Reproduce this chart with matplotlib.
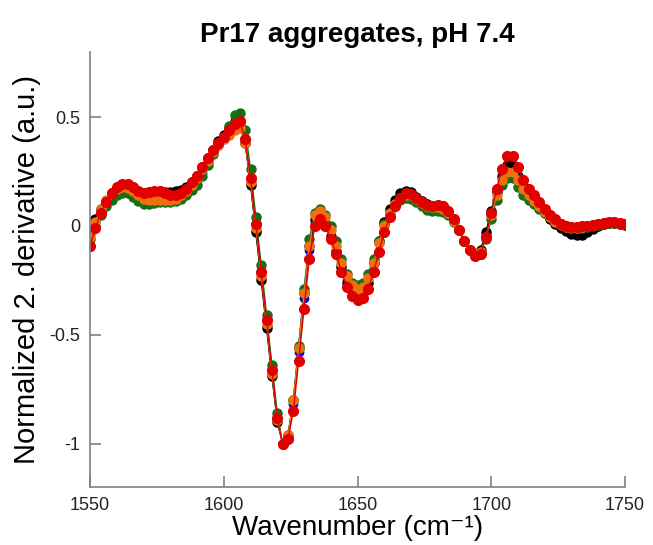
import matplotlib
matplotlib.use('Agg')
import matplotlib.pyplot as plt
import numpy as np

# wavenumber grid (cm-1), every 2 cm-1
wavenumber = np.arange(1550, 1751, 2)

# normalized 2nd derivative spectra
blue = [-0.04, 0.02, 0.07, 0.10, 0.13, 0.15, 0.16, 0.16, 0.145, 0.125,
        0.115, 0.115, 0.12, 0.12, 0.12, 0.12, 0.125, 0.135, 0.155, 0.18,
        0.21, 0.25, 0.29, 0.33, 0.37, 0.40, 0.43, 0.46, 0.47, 0.38,
        0.20, -0.02, -0.24, -0.46, -0.68, -0.89, -1.0, -0.97, -0.82, -0.58,
        -0.33, -0.11, 0.02, 0.05, 0.02, -0.04, -0.11, -0.18, -0.25, -0.29,
        -0.31, -0.30, -0.25, -0.17, -0.08, 0.01, 0.07, 0.11, 0.14, 0.15,
        0.15, 0.135, 0.115, 0.10, 0.09, 0.09, 0.085, 0.065, 0.025, -0.02,
        -0.07, -0.11, -0.13, -0.115, -0.04, 0.06, 0.15, 0.22, 0.26, 0.26,
        0.22, 0.17, 0.14, 0.115, 0.09, 0.06, 0.035, 0.015, 0.0, -0.015,
        -0.025, -0.03, -0.03, -0.02, -0.01, 0.0, 0.01, 0.015, 0.015, 0.01,
        0.005]
black = [-0.03, 0.03, 0.08, 0.11, 0.14, 0.16, 0.17, 0.17, 0.16, 0.14,
         0.135, 0.14, 0.15, 0.155, 0.155, 0.155, 0.16, 0.165, 0.18, 0.20,
         0.23, 0.27, 0.31, 0.35, 0.39, 0.42, 0.45, 0.48, 0.48, 0.38,
         0.19, -0.03, -0.25, -0.47, -0.69, -0.90, -1.0, -0.96, -0.80, -0.56,
         -0.31, -0.09, 0.03, 0.05, 0.01, -0.05, -0.12, -0.19, -0.26, -0.30,
         -0.32, -0.31, -0.26, -0.17, -0.07, 0.02, 0.08, 0.12, 0.15, 0.16,
         0.155, 0.135, 0.115, 0.10, 0.09, 0.09, 0.085, 0.065, 0.025, -0.02,
         -0.07, -0.11, -0.13, -0.11, -0.03, 0.07, 0.16, 0.23, 0.28, 0.28,
         0.23, 0.18, 0.15, 0.12, 0.09, 0.06, 0.03, 0.01, -0.01, -0.025,
         -0.035, -0.04, -0.04, -0.03, -0.015, 0.0, 0.01, 0.015, 0.015, 0.01,
         0.005]
green = [-0.06, 0.0, 0.05, 0.09, 0.12, 0.14, 0.15, 0.15, 0.135, 0.115,
         0.10, 0.10, 0.105, 0.11, 0.11, 0.11, 0.115, 0.125, 0.14, 0.165,
         0.19, 0.23, 0.28, 0.33, 0.37, 0.41, 0.46, 0.51, 0.52, 0.44,
         0.26, 0.04, -0.18, -0.41, -0.64, -0.86, -1.0, -0.97, -0.80, -0.55,
         -0.29, -0.06, 0.06, 0.08, 0.05, 0.0, -0.07, -0.15, -0.22, -0.26,
         -0.27, -0.26, -0.22, -0.15, -0.07, 0.01, 0.06, 0.10, 0.12, 0.13,
         0.125, 0.11, 0.09, 0.075, 0.07, 0.07, 0.065, 0.05, 0.02, -0.02,
         -0.07, -0.11, -0.13, -0.12, -0.06, 0.03, 0.12, 0.19, 0.22, 0.22,
         0.18, 0.14, 0.12, 0.10, 0.08, 0.06, 0.04, 0.025, 0.01, 0.0,
         -0.005, -0.01, -0.01, -0.005, 0.0, 0.005, 0.01, 0.015, 0.015, 0.01,
         0.005]
orange = [-0.05, 0.02, 0.08, 0.12, 0.15, 0.17, 0.18, 0.175, 0.16, 0.14,
          0.125, 0.12, 0.12, 0.12, 0.12, 0.12, 0.125, 0.14, 0.16, 0.19,
          0.22, 0.26, 0.30, 0.34, 0.37, 0.40, 0.42, 0.44, 0.45, 0.38,
          0.20, -0.01, -0.23, -0.45, -0.68, -0.89, -1.0, -0.96, -0.80, -0.56,
          -0.31, -0.09, 0.05, 0.07, 0.04, -0.02, -0.09, -0.17, -0.23, -0.27,
          -0.29, -0.28, -0.24, -0.17, -0.08, 0.0, 0.06, 0.10, 0.13, 0.14,
          0.14, 0.125, 0.105, 0.09, 0.085, 0.085, 0.08, 0.06, 0.025, -0.02,
          -0.07, -0.11, -0.13, -0.12, -0.05, 0.05, 0.14, 0.21, 0.25, 0.25,
          0.21, 0.17, 0.14, 0.115, 0.09, 0.065, 0.04, 0.02, 0.005, -0.005,
          -0.01, -0.01, -0.005, 0.0, 0.005, 0.01, 0.015, 0.02, 0.02, 0.015,
          0.01]
red = [-0.09, -0.01, 0.06, 0.11, 0.15, 0.18, 0.195, 0.195, 0.18, 0.16,
       0.15, 0.155, 0.16, 0.16, 0.15, 0.14, 0.14, 0.15, 0.17, 0.20,
       0.23, 0.27, 0.31, 0.35, 0.38, 0.41, 0.44, 0.47, 0.48, 0.40,
       0.22, 0.01, -0.21, -0.43, -0.66, -0.88, -1.0, -0.98, -0.85, -0.62,
       -0.38, -0.15, 0.0, 0.03, 0.0, -0.06, -0.13, -0.21, -0.28, -0.32,
       -0.34, -0.33, -0.29, -0.21, -0.12, -0.03, 0.04, 0.09, 0.13, 0.15,
       0.145, 0.13, 0.11, 0.095, 0.09, 0.095, 0.09, 0.07, 0.03, -0.02,
       -0.07, -0.11, -0.14, -0.13, -0.05, 0.06, 0.17, 0.26, 0.32, 0.32,
       0.27, 0.21, 0.17, 0.14, 0.11, 0.08, 0.05, 0.03, 0.01, 0.0,
       -0.005, -0.005, 0.0, 0.0, 0.005, 0.01, 0.015, 0.02, 0.02, 0.015,
       0.01]

series = [(blue, '#0000ff', 6),
          (black, '#000000', 6.5),
          (green, '#157015', 6.5),
          (orange, '#f07010', 6.5),
          (red, '#e00000', 7)]

fig = plt.figure(figsize=(6.53, 5.45), dpi=100)
ax = fig.add_axes([0.138, 0.106, 0.819, 0.799])

for values, col, ms in series:
    ax.plot(wavenumber, values, '-', color=col, lw=1.0,
            marker='o', markersize=ms, markerfacecolor=col, markeredgecolor=col)

ax.set_xlim(1550, 1750)
ax.set_ylim(-1.2, 0.8)
ax.set_xticks([1550, 1600, 1650, 1700, 1750])
ax.set_yticks([-1, -0.5, 0, 0.5])
ax.set_yticklabels(['-1', '-0.5', '0', '0.5'])

for side in ['top', 'right']:
    ax.spines[side].set_visible(False)
for side in ['left', 'bottom']:
    ax.spines[side].set_color('#808080')
    ax.spines[side].set_linewidth(1.2)
ax.tick_params(axis='both', direction='in', length=8, width=1.2, color='#808080',
               labelsize=13, labelcolor='#222222', pad=7)
for lab in ax.get_xticklabels() + ax.get_yticklabels():
    lab.set_family('Liberation Sans')

ax.set_title('Pr17 aggregates, pH 7.4', fontsize=20, fontweight='bold',
             family='Liberation Sans', pad=7)
ax.set_xlabel('Wavenumber (cm\u207b\u00b9)', fontsize=20,
              family=['Liberation Sans', 'DejaVu Sans'], labelpad=1)
ax.set_ylabel('Normalized 2. derivative (a.u.)', fontsize=21, family='Liberation Sans',
              labelpad=6)

plt.savefig('out.png', dpi=100)
